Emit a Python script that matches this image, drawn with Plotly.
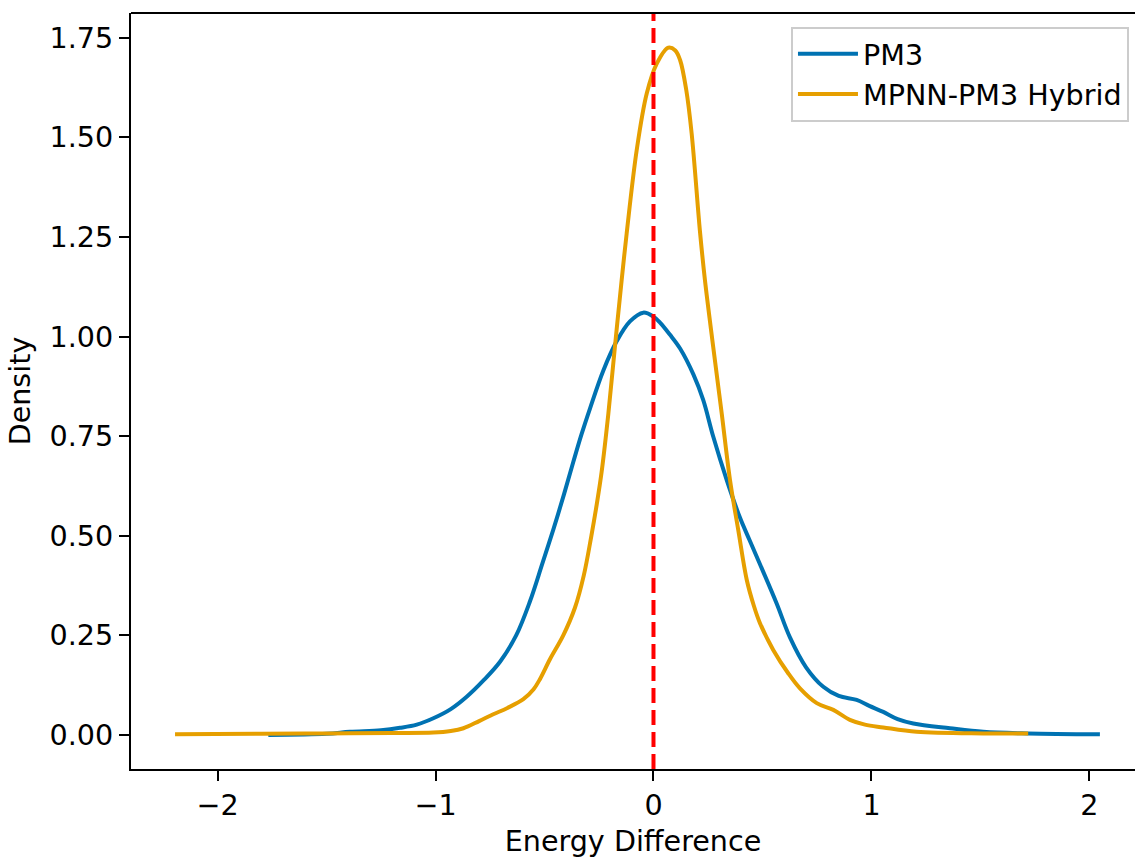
import plotly.graph_objects as go

# ---- data ----
pm3_x = [-1.767, -1.5, -1.393, -1.25, -1.163, -1.086, -1.01, -0.93, -0.857, -0.78,
         -0.704, -0.63, -0.567, -0.51, -0.460, -0.41, -0.368, -0.33, -0.291, -0.230,
         -0.169, -0.108, -0.047, 0.0, 0.030, 0.075, 0.122, 0.183, 0.228, 0.274,
         0.336, 0.397, 0.44, 0.489, 0.565, 0.626, 0.70, 0.779, 0.85, 0.932,
         0.99, 1.054, 1.12, 1.192, 1.36, 1.513, 1.718, 2.048]
pm3_y = [0.000, 0.003, 0.008, 0.012, 0.018, 0.026, 0.042, 0.065, 0.096, 0.137,
         0.184, 0.250, 0.335, 0.430, 0.515, 0.605, 0.685, 0.755, 0.820, 0.915,
         0.988, 1.038, 1.060, 1.050, 1.035, 1.005, 0.970, 0.905, 0.841, 0.749,
         0.640, 0.545, 0.490, 0.428, 0.330, 0.245, 0.170, 0.121, 0.098, 0.088,
         0.073, 0.058, 0.040, 0.029, 0.017, 0.008, 0.004, 0.002]

hyb_x = [-2.195, -1.8, -1.5, -1.2, -1.01, -0.93, -0.872, -0.80, -0.735, -0.67,
         -0.597, -0.55, -0.521, -0.475, -0.414, -0.36, -0.32, -0.285, -0.26, -0.238,
         -0.207, -0.177, -0.146, -0.123, -0.077, -0.031, 0.015, 0.068, 0.10, 0.122,
         0.150, 0.175, 0.213, 0.236, 0.274, 0.313, 0.351, 0.389, 0.428, 0.46,
         0.489, 0.55, 0.618, 0.672, 0.749, 0.825, 0.901, 0.97, 1.054, 1.207,
         1.513, 1.719]
hyb_y = [0.002, 0.003, 0.004, 0.005, 0.006, 0.010, 0.017, 0.035, 0.052, 0.068,
         0.090, 0.115, 0.140, 0.190, 0.250, 0.320, 0.400, 0.500, 0.580, 0.660,
         0.807, 0.974, 1.142, 1.259, 1.468, 1.610, 1.685, 1.725, 1.718, 1.694,
         1.620, 1.510, 1.265, 1.142, 0.974, 0.807, 0.640, 0.514, 0.389, 0.325,
         0.280, 0.213, 0.155, 0.117, 0.080, 0.063, 0.038, 0.026, 0.019, 0.008,
         0.004, 0.004]

series_names = ["PM3", "MPNN-PM3 Hybrid"]
x_tick_vals = [-2, -1, 0, 1, 2]
x_tick_text = ["\u22122", "\u22121", "0", "1", "2"]
y_tick_vals = [0.0, 0.25, 0.5, 0.75, 1.0, 1.25, 1.5, 1.75]
y_tick_text = ["0.00", "0.25", "0.50", "0.75", "1.00", "1.25", "1.50", "1.75"]
ref_x = 0.0

FONT = "DejaVu Sans"
FS = 28.6

fig = go.Figure()
fig.add_trace(go.Scatter(x=pm3_x, y=pm3_y, mode="lines", name=series_names[0],
                         line=dict(color="#0072B2", width=4, shape="spline", smoothing=1.0)))
fig.add_trace(go.Scatter(x=hyb_x, y=hyb_y, mode="lines", name=series_names[1],
                         line=dict(color="#E69F00", width=4, shape="spline", smoothing=1.0)))

# reference vertical dashed line
fig.add_vline(x=ref_x, line=dict(color="red", width=4, dash="15px,7px"))

# top spine
fig.add_shape(type="line", xref="paper", yref="paper", x0=0, x1=1, y0=1, y1=1,
              line=dict(color="black", width=2.2))

fig.update_layout(
    width=1135, height=858,
    margin=dict(l=131, r=0, t=13, b=89, autoexpand=False),
    paper_bgcolor="white", plot_bgcolor="white",
    font=dict(family=FONT, size=FS, color="black"),
    showlegend=True,
    legend=dict(x=0.994, y=0.982, xanchor="right", yanchor="top",
                bgcolor="rgba(255,255,255,0.8)", bordercolor="#cccccc", borderwidth=2,
                itemwidth=60,
                font=dict(family=FONT, size=FS)),
    xaxis=dict(range=[-2.397, 2.209], showgrid=False, zeroline=False,
               showline=True, linecolor="black", linewidth=2.2,
               ticks="outside", ticklen=10, tickwidth=2.2, tickcolor="black",
               tickvals=x_tick_vals, ticktext=x_tick_text,
               title=dict(text="Energy Difference", standoff=11,
                          font=dict(family=FONT, size=FS)),
               automargin=False),
    yaxis=dict(range=[-0.0853, 1.812], showgrid=False, zeroline=False,
               showline=True, linecolor="black", linewidth=2.2,
               ticks="outside", ticklen=10, tickwidth=2.2, tickcolor="black",
               tickvals=y_tick_vals, ticktext=y_tick_text,
               title=dict(text="Density", standoff=10,
                          font=dict(family=FONT, size=FS)),
               automargin=False),
)

fig.write_html("out.html")
